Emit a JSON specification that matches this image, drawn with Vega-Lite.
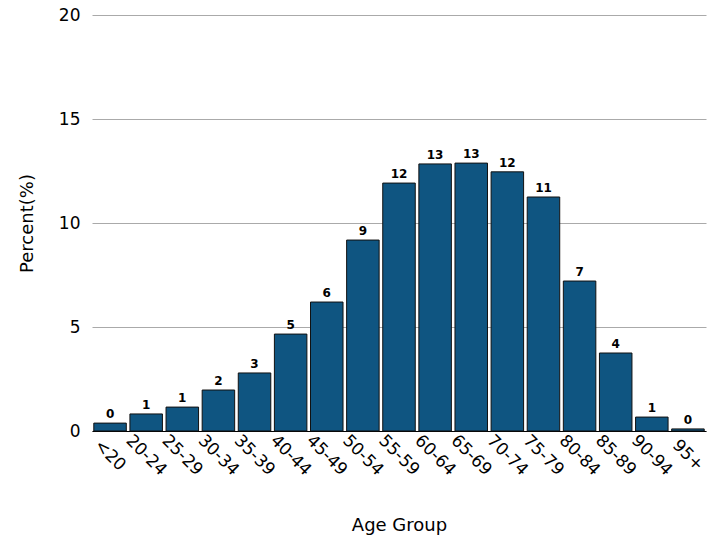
{
  "$schema": "https://vega.github.io/schema/vega-lite/v6.json",
  "width": 614,
  "height": 416,
  "autosize": {"type": "none"},
  "padding": {"left": 92, "top": 15, "right": 8, "bottom": 114},
  "config": {
    "font": "DejaVu Sans",
    "view": {"stroke": null},
    "axis": {"labelFont": "DejaVu Sans", "titleFont": "DejaVu Sans", "labelFontSize": 17, "titleFontSize": 18, "titleFontWeight": "normal", "labelColor": "#000", "titleColor": "#000"}
  },
  "data": {
    "values": [
      {"age": "<20", "pct": 0.38},
      {"age": "20-24", "pct": 0.82},
      {"age": "25-29", "pct": 1.15},
      {"age": "30-34", "pct": 1.97},
      {"age": "35-39", "pct": 2.79},
      {"age": "40-44", "pct": 4.66},
      {"age": "45-49", "pct": 6.2},
      {"age": "50-54", "pct": 9.18},
      {"age": "55-59", "pct": 11.92},
      {"age": "60-64", "pct": 12.84},
      {"age": "65-69", "pct": 12.88},
      {"age": "70-74", "pct": 12.46},
      {"age": "75-79", "pct": 11.25},
      {"age": "80-84", "pct": 7.21},
      {"age": "85-89", "pct": 3.75},
      {"age": "90-94", "pct": 0.67},
      {"age": "95+", "pct": 0.1}
    ]
  },
  "encoding": {
    "x": {
      "field": "age", "type": "nominal", "sort": null, "title": "Age Group",
      "scale": {"paddingInner": 0.1, "paddingOuter": 0.05},
      "axis": {"labelAngle": 45, "labelAlign": "center", "labelBaseline": "middle", "ticks": false, "domainColor": "#000", "titlePadding": 38, "labelPadding": 24}
    },
    "y": {
      "field": "pct", "type": "quantitative", "title": "Percent(%)",
      "scale": {"domain": [0, 20]},
      "axis": {"values": [0, 5, 10, 15, 20], "domain": false, "ticks": false, "gridColor": "#aaa", "labelPadding": 12, "titlePadding": 22}
    }
  },
  "layer": [
    {"mark": {"type": "bar", "color": "#0f5581", "stroke": "#111", "strokeWidth": 1}},
    {
      "mark": {"type": "text", "dy": -9, "fontSize": 12, "fontWeight": "bold", "color": "#000"},
      "encoding": {"text": {"field": "pct", "type": "quantitative", "format": ".0f"}}
    }
  ]
}
